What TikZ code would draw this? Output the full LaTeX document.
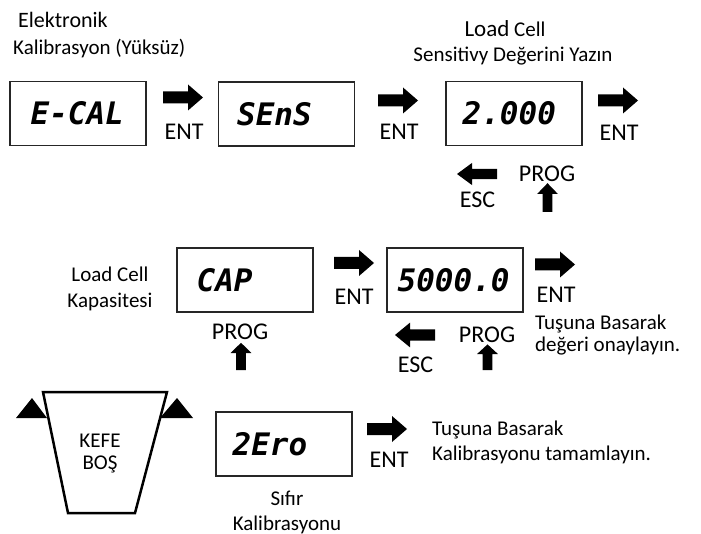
\documentclass[tikz,border=0pt]{standalone}
\usepackage{fontspec}
\setmainfont{Carlito}
\newfontfamily\segfont{DejaVu Sans Mono}
\usetikzlibrary{positioning}

\begin{document}
\begin{tikzpicture}[x=1pt, y=-1pt,
    yazi/.style={font=\fontsize{21}{25}\selectfont, inner sep=0pt},
    tus/.style={font=\fontsize{24}{28}\selectfont, inner sep=0pt},
    seg/.style={font=\segfont\bfseries\itshape\fontsize{31}{31}\selectfont, inner sep=0pt},
    ekran/.style={draw=black!85, line width=1.2pt, minimum width=136pt, minimum height=64pt, inner sep=0pt},
    okR/.pic={\fill (0,-6) -- (25,-6) -- (25,-13) -- (40,0) -- (25,13) -- (25,6) -- (0,6) -- cycle;}]
    \useasboundingbox (0,0) rectangle (701,534);

    % --- 1. SATIR: E-CAL -> SEnS -> 2.000 ---
    \node[yazi, anchor=base west, font=\fontsize{22}{26}\selectfont] (elek) at (18,28) {Elektronik};
    \node[yazi, anchor=base west] (kalib) at (13,55) {Kalibrasyon (Yüksüz)};

    \node[ekran] (ecal) at (78,113.5) {};
    \node[seg, right=21pt of ecal.west] (ecalT) {E-CAL};
    \pic (ok1) at (163,97.5) {okR};
    \node[tus, anchor=base] (ent1) at (184,140) {ENT};

    \node[ekran] (sens) at (286.5,114) {};
    \node[seg, right=19pt of sens.west] (sensT) {SEnS};
    \pic (ok2) at (378,100.5) {okR};
    \node[tus, anchor=base] (ent2) at (399,140) {ENT};

    \node[yazi, anchor=base] (lc1) at (505,37) {{\fontsize{23}{26}\selectfont Load} Cell};
    \node[yazi, anchor=base] (sensy) at (513,62) {Sensitivy Değerini Yazın};
    \node[ekran] (b2000) at (514,113.5) {};
    \node[seg, right=17pt of b2000.west] (b2000T) {2.000};
    \pic (ok3) at (598,100.5) {okR};
    \node[tus, anchor=base] (ent3) at (619,141) {ENT};

    % ESC ve PROG tuslari
    \pic[rotate=180, yscale=.85] (esc1ok) at (497,174) {okR};
    \node[tus, anchor=base] (esc1) at (477.5,208) {ESC};
    \node[tus, anchor=base] (prog1) at (547,182) {PROG};
    \pic[rotate=90, xscale=.72, yscale=.8] (prog1ok) at (547.5,212) {okR};

    % --- 2. SATIR: CAP -> 5000.0 ---
    \node[yazi, anchor=base] (lc2) at (110,282) {Load Cell};
    \node[yazi, anchor=base] (kap) at (110,308) {Kapasitesi};

    \node[ekran] (cap) at (245,280) {};
    \node[seg, right=20pt of cap.west] (capT) {CAP};
    \node[tus, anchor=base] (prog2) at (240,339) {PROG};
    \pic[rotate=90, xscale=.68, yscale=.8] (prog2ok) at (241,370) {okR};
    \pic (ok4) at (334,263) {okR};
    \node[tus, anchor=base] (ent4) at (354,305) {ENT};

    \node[ekran] (b5000) at (455,280) {};
    \node[seg, right=11pt of b5000.west] (b5000T) {5000.0};
    \pic (ok5) at (535,264.5) {okR};
    \node[tus, anchor=base] (ent5) at (556,303) {ENT};
    \node[yazi, anchor=base west] (tus1) at (535,330) {Tuşuna Basarak};
    \node[yazi, anchor=base west] (onay) at (535,352) {değeri onaylayın.};

    \pic[rotate=180, yscale=.95] (esc2ok) at (435,335) {okR};
    \node[tus, anchor=base] (esc2) at (415.5,372) {ESC};
    \node[tus, anchor=base] (prog3) at (487,342) {PROG};
    \pic[rotate=90, xscale=.64, yscale=.8] (prog3ok) at (487.5,370) {okR};

    % --- 3. SATIR: KEFE, 2Ero ---
    \draw[line width=2.5pt, line join=miter] (43,392) -- (167,392) -- (135,513) -- (68,513) -- cycle;
    \fill (16,418) -- (47,418) -- (32,398) -- cycle; % sol ucgen
    \fill (160,418) -- (193,418) -- (177,398) -- cycle; % sag ucgen
    \node[yazi, anchor=base] (kefe) at (100,447) {KEFE};
    \node[yazi, anchor=base] (bos) at (100,469) {BOŞ};

    \node[ekran] (zero) at (284,444) {};
    \node[seg, right=17pt of zero.west] (zeroT) {2Ero};
    \node[yazi, anchor=base] (sifir) at (287,505) {Sıfır};
    \node[yazi, anchor=base] (kalib2) at (287,530) {Kalibrasyonu};
    \pic (ok6) at (367,429) {okR};
    \node[tus, anchor=base] (ent6) at (389,467) {ENT};
    \node[yazi, anchor=base west] (tus2) at (432,435) {Tuşuna Basarak};
    \node[yazi, anchor=base west] (tamam) at (432,460) {Kalibrasyonu tamamlayın.};

\end{tikzpicture}
\end{document}
